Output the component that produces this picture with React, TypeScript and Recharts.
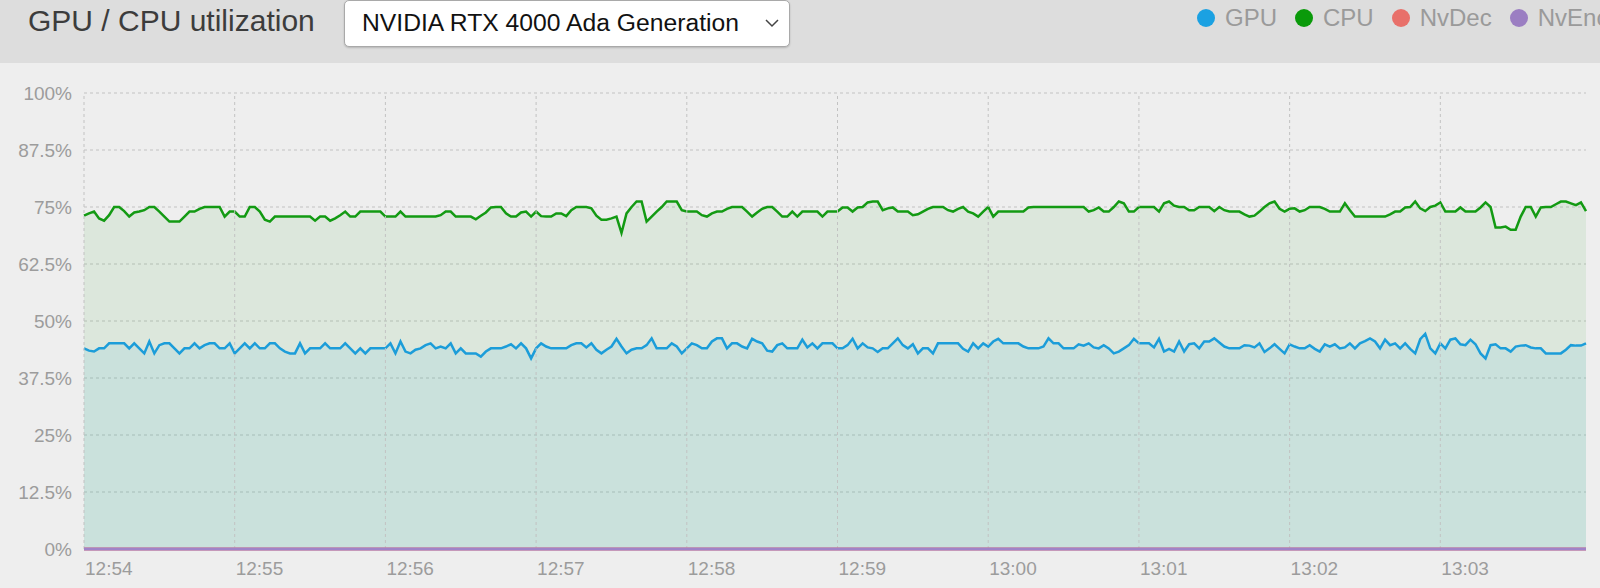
import React from "react";
import { ComposedChart, Area, Line, XAxis, YAxis, CartesianGrid, ReferenceLine } from "recharts";

// one sample every 2 seconds, starting at 12:54:00
const sampleSeconds = 2;

const cpuValues = [
  73.1, 73.6, 74.0, 72.5, 72.0, 73.2, 75.0, 75.0, 74.1, 72.9, 73.8, 74.0, 74.3, 75.0, 75.0, 74.0, 72.9, 71.8, 71.8, 71.8, 72.9, 74.0, 74.0, 74.6, 75.0,
  75.0, 75.0, 75.0, 72.9, 74.0, 74.0, 72.9, 72.9, 75.0, 75.0, 74.0, 72.2, 71.8, 72.9, 72.9, 72.9, 72.9, 72.9, 72.9, 72.9, 72.9, 72.0, 72.9, 72.9, 72.0,
  72.5, 73.2, 74.0, 72.9, 72.9, 74.0, 74.0, 74.0, 74.0, 74.0, 72.9, 72.9, 72.9, 74.0, 72.9, 72.9, 72.9, 72.9, 72.9, 72.9, 72.9, 73.2, 74.0, 74.0, 72.9,
  72.9, 72.9, 72.9, 72.3, 73.1, 73.8, 74.9, 75.0, 75.0, 73.6, 72.9, 72.9, 73.8, 74.0, 72.9, 74.0, 73.0, 72.9, 72.9, 73.6, 73.6, 73.0, 74.3, 75.0, 75.0,
  75.0, 74.7, 73.1, 72.2, 72.2, 72.5, 72.9, 69.3, 73.6, 75.0, 76.2, 76.2, 71.8, 72.9, 74.0, 75.0, 76.2, 76.2, 76.2, 74.3, 74.0, 74.0, 74.0, 73.2, 72.9,
  73.6, 74.0, 74.0, 74.6, 75.0, 75.0, 75.0, 74.0, 72.9, 73.8, 74.6, 75.0, 75.0, 74.0, 72.9, 72.9, 74.0, 72.9, 74.0, 74.0, 74.0, 74.0, 72.9, 74.0, 74.0,
  74.0, 74.9, 74.9, 74.0, 74.9, 75.0, 76.0, 76.2, 76.2, 74.3, 74.7, 74.9, 74.0, 74.0, 74.0, 73.2, 73.4, 74.0, 74.6, 75.0, 75.0, 75.0, 74.3, 74.0, 74.6,
  75.0, 74.0, 73.6, 72.9, 74.0, 75.0, 72.9, 74.0, 74.0, 74.0, 74.0, 74.0, 74.0, 74.9, 75.0, 75.0, 75.0, 75.0, 75.0, 75.0, 75.0, 75.0, 75.0, 75.0, 75.0,
  74.0, 74.3, 74.9, 74.0, 74.0, 75.0, 76.2, 75.8, 74.0, 74.0, 75.0, 75.0, 75.0, 75.0, 74.0, 75.8, 76.2, 75.3, 75.0, 75.0, 74.3, 74.3, 75.0, 75.0, 75.0,
  74.1, 75.0, 74.3, 74.0, 74.0, 74.0, 73.4, 72.9, 73.1, 74.0, 75.0, 75.8, 76.2, 74.6, 74.0, 74.6, 74.7, 74.0, 74.3, 75.0, 75.0, 75.0, 74.6, 74.0, 74.0,
  74.0, 75.8, 74.3, 72.9, 72.9, 72.9, 72.9, 72.9, 72.9, 72.9, 73.4, 74.0, 74.0, 74.9, 75.0, 76.2, 74.7, 74.1, 75.0, 75.3, 76.0, 74.0, 74.0, 74.0, 74.9,
  74.0, 74.0, 74.0, 74.9, 76.0, 75.0, 70.5, 70.5, 70.7, 70.0, 70.0, 72.9, 75.0, 75.0, 72.9, 74.9, 75.0, 75.0, 75.6, 76.2, 76.2, 75.8, 75.4, 76.0, 74.1,
];

const gpuValues = [
  44.0, 43.5, 43.3, 44.0, 44.0, 45.1, 45.1, 45.1, 45.1, 44.0, 45.1, 44.0, 42.9, 45.5, 42.9, 44.7, 45.1, 45.1, 44.0, 42.9, 44.0, 44.0, 45.1, 44.0, 44.7,
  45.1, 45.1, 44.0, 44.0, 45.1, 42.9, 44.0, 45.1, 44.0, 45.1, 44.0, 44.0, 45.1, 45.1, 44.0, 43.3, 42.9, 42.9, 45.1, 42.9, 44.0, 44.0, 44.0, 45.1, 44.0,
  44.0, 44.0, 45.1, 44.0, 42.9, 44.0, 42.9, 44.0, 44.0, 44.0, 44.0, 45.1, 42.9, 45.5, 43.3, 42.9, 43.7, 44.0, 44.7, 45.1, 44.0, 44.4, 44.0, 45.1, 42.9,
  44.0, 42.9, 42.9, 42.9, 42.2, 43.3, 44.0, 44.0, 44.0, 44.4, 44.9, 44.0, 45.1, 44.0, 41.8, 44.0, 45.1, 44.4, 44.0, 44.0, 44.0, 44.0, 44.7, 45.1, 45.1,
  44.2, 45.1, 43.7, 42.9, 43.7, 44.4, 46.1, 44.4, 42.9, 43.7, 44.0, 44.0, 44.7, 46.2, 44.0, 44.0, 44.0, 45.1, 44.4, 42.9, 44.0, 45.1, 44.7, 44.0, 44.0,
  45.5, 46.2, 46.2, 44.0, 45.1, 45.1, 44.4, 44.0, 46.1, 45.5, 45.1, 43.5, 43.3, 44.7, 45.1, 44.0, 44.0, 44.0, 45.9, 44.2, 45.1, 44.0, 45.1, 45.1, 45.1,
  44.0, 44.0, 44.7, 46.1, 44.0, 45.1, 44.2, 44.0, 43.2, 44.0, 44.0, 45.1, 46.2, 44.7, 44.0, 44.9, 42.9, 44.0, 44.0, 42.9, 45.1, 45.1, 45.1, 45.1, 45.1,
  43.9, 43.3, 45.1, 44.0, 45.1, 44.4, 45.5, 46.1, 45.1, 45.1, 45.1, 45.1, 44.4, 44.0, 44.0, 44.0, 44.4, 46.2, 45.1, 45.1, 44.0, 44.0, 44.0, 44.9, 44.6,
  45.1, 44.2, 44.0, 44.7, 44.0, 42.9, 43.3, 44.0, 44.7, 46.1, 45.1, 45.1, 45.1, 44.2, 46.1, 43.3, 43.9, 43.3, 45.5, 43.3, 44.9, 45.1, 44.0, 45.5, 45.5,
  46.2, 45.3, 44.4, 44.0, 44.0, 44.0, 44.7, 44.6, 44.2, 45.1, 43.2, 44.0, 44.9, 43.9, 42.9, 44.9, 44.4, 44.0, 44.0, 44.7, 43.9, 43.3, 44.9, 44.4, 44.9,
  44.0, 44.2, 45.1, 44.0, 45.1, 45.6, 46.2, 45.5, 44.0, 45.9, 44.7, 45.1, 44.0, 45.1, 43.9, 42.9, 46.0, 47.2, 44.0, 42.9, 45.1, 44.0, 45.9, 46.2, 44.9,
  44.7, 45.9, 44.9, 42.9, 41.8, 44.7, 44.9, 44.0, 44.0, 43.3, 44.4, 44.6, 44.7, 44.2, 44.0, 44.0, 42.9, 42.9, 42.9, 42.9, 43.7, 44.7, 44.6, 44.6, 45.1,
];

const nvDecValues = [
  0, 0, 0, 0, 0, 0, 0, 0, 0, 0, 0, 0, 0, 0, 0, 0, 0, 0, 0, 0, 0, 0, 0, 0, 0, 0, 0, 0, 0, 0, 0, 0, 0, 0, 0, 0, 0, 0, 0, 0, 0, 0, 0, 0, 0, 0, 0, 0, 0, 0,
  0, 0, 0, 0, 0, 0, 0, 0, 0, 0, 0, 0, 0, 0, 0, 0, 0, 0, 0, 0, 0, 0, 0, 0, 0, 0, 0, 0, 0, 0, 0, 0, 0, 0, 0, 0, 0, 0, 0, 0, 0, 0, 0, 0, 0, 0, 0, 0, 0, 0,
  0, 0, 0, 0, 0, 0, 0, 0, 0, 0, 0, 0, 0, 0, 0, 0, 0, 0, 0, 0, 0, 0, 0, 0, 0, 0, 0, 0, 0, 0, 0, 0, 0, 0, 0, 0, 0, 0, 0, 0, 0, 0, 0, 0, 0, 0, 0, 0, 0, 0,
  0, 0, 0, 0, 0, 0, 0, 0, 0, 0, 0, 0, 0, 0, 0, 0, 0, 0, 0, 0, 0, 0, 0, 0, 0, 0, 0, 0, 0, 0, 0, 0, 0, 0, 0, 0, 0, 0, 0, 0, 0, 0, 0, 0, 0, 0, 0, 0, 0, 0,
  0, 0, 0, 0, 0, 0, 0, 0, 0, 0, 0, 0, 0, 0, 0, 0, 0, 0, 0, 0, 0, 0, 0, 0, 0, 0, 0, 0, 0, 0, 0, 0, 0, 0, 0, 0, 0, 0, 0, 0, 0, 0, 0, 0, 0, 0, 0, 0, 0, 0,
  0, 0, 0, 0, 0, 0, 0, 0, 0, 0, 0, 0, 0, 0, 0, 0, 0, 0, 0, 0, 0, 0, 0, 0, 0, 0, 0, 0, 0, 0, 0, 0, 0, 0, 0, 0, 0, 0, 0, 0, 0, 0, 0, 0, 0, 0, 0, 0, 0, 0,
];

const nvEncValues = [
  0, 0, 0, 0, 0, 0, 0, 0, 0, 0, 0, 0, 0, 0, 0, 0, 0, 0, 0, 0, 0, 0, 0, 0, 0, 0, 0, 0, 0, 0, 0, 0, 0, 0, 0, 0, 0, 0, 0, 0, 0, 0, 0, 0, 0, 0, 0, 0, 0, 0,
  0, 0, 0, 0, 0, 0, 0, 0, 0, 0, 0, 0, 0, 0, 0, 0, 0, 0, 0, 0, 0, 0, 0, 0, 0, 0, 0, 0, 0, 0, 0, 0, 0, 0, 0, 0, 0, 0, 0, 0, 0, 0, 0, 0, 0, 0, 0, 0, 0, 0,
  0, 0, 0, 0, 0, 0, 0, 0, 0, 0, 0, 0, 0, 0, 0, 0, 0, 0, 0, 0, 0, 0, 0, 0, 0, 0, 0, 0, 0, 0, 0, 0, 0, 0, 0, 0, 0, 0, 0, 0, 0, 0, 0, 0, 0, 0, 0, 0, 0, 0,
  0, 0, 0, 0, 0, 0, 0, 0, 0, 0, 0, 0, 0, 0, 0, 0, 0, 0, 0, 0, 0, 0, 0, 0, 0, 0, 0, 0, 0, 0, 0, 0, 0, 0, 0, 0, 0, 0, 0, 0, 0, 0, 0, 0, 0, 0, 0, 0, 0, 0,
  0, 0, 0, 0, 0, 0, 0, 0, 0, 0, 0, 0, 0, 0, 0, 0, 0, 0, 0, 0, 0, 0, 0, 0, 0, 0, 0, 0, 0, 0, 0, 0, 0, 0, 0, 0, 0, 0, 0, 0, 0, 0, 0, 0, 0, 0, 0, 0, 0, 0,
  0, 0, 0, 0, 0, 0, 0, 0, 0, 0, 0, 0, 0, 0, 0, 0, 0, 0, 0, 0, 0, 0, 0, 0, 0, 0, 0, 0, 0, 0, 0, 0, 0, 0, 0, 0, 0, 0, 0, 0, 0, 0, 0, 0, 0, 0, 0, 0, 0, 0,
];

const minuteTicks = [0, 60, 120, 180, 240, 300, 360, 420, 480, 540];
const minuteLabels = ["12:54", "12:55", "12:56", "12:57", "12:58", "12:59", "13:00", "13:01", "13:02", "13:03"];
const percentTicks = [0, 12.5, 25, 37.5, 50, 62.5, 75, 87.5, 100];
const percentLabels = ["0%", "12.5%", "25%", "37.5%", "50%", "62.5%", "75%", "87.5%", "100%"];

const legendNames = ["GPU", "CPU", "NvDec", "NvEnc"];
const legendColors = ["#1ba1e2", "#0a9a0a", "#e8706a", "#9b7ec2"];

const FONT = '"Liberation Sans", Arial, Helvetica, sans-serif';
const GRID = "#c2c2c2";

const chartData = cpuValues.map((cpu, i) => ({
  t: i * sampleSeconds,
  cpu,
  gpu: gpuValues[i],
  nvDec: nvDecValues[i],
  nvEnc: nvEncValues[i],
}));

const TimeTick = ({ x, y, payload }: any) => {
  const idx = minuteTicks.indexOf(payload.value);
  return (
    <text x={x + 1} y={y + 13} dy="0.71em" textAnchor="start" fill="#9c9c9c" fontSize={19} fontFamily={FONT}>
      {minuteLabels[idx]}
    </text>
  );
};

const PercentTick = ({ x, y, payload }: any) => {
  const idx = percentTicks.indexOf(payload.value);
  return (
    <text x={x - 12} y={y} dy="0.355em" textAnchor="end" fill="#9c9c9c" fontSize={19} fontFamily={FONT}>
      {percentLabels[idx]}
    </text>
  );
};

export default function App() {
  return (
    <div
      style={{
        position: "relative",
        width: 1600,
        height: 588,
        overflow: "hidden",
        background: "#eeeeee",
        fontFamily: FONT,
      }}
    >
      <style>{"body{margin:0}"}</style>
      {/* header */}
      <div style={{ position: "absolute", left: 0, top: 0, width: 1600, height: 63, background: "#dddddd", overflow: "hidden" }}>
        <div style={{ position: "absolute", left: 28, top: 6, fontSize: 30, lineHeight: "30px", color: "#3c3c3c", whiteSpace: "nowrap" }}>
          GPU / CPU utilization
        </div>
        <div
          style={{
            position: "absolute",
            left: 344,
            top: 0,
            width: 444,
            height: 45,
            background: "#ffffff",
            border: "1px solid #a9a9a9",
            borderRadius: 5,
            boxShadow: "0 1px 2px rgba(0,0,0,0.18)",
          }}
        >
          <div style={{ position: "absolute", left: 17, top: 10, fontSize: 24.7, lineHeight: "24px", color: "#111", whiteSpace: "nowrap" }}>
            NVIDIA RTX 4000 Ada Generation
          </div>
          <svg style={{ position: "absolute", left: 420, top: 18 }} width={14} height={9}>
            <path d="M1 1 L7 7 L13 1" fill="none" stroke="#444" strokeWidth={1.5} />
          </svg>
        </div>
        <div style={{ position: "absolute", left: 1197, top: 6, display: "flex", alignItems: "center", whiteSpace: "nowrap" }}>
          {legendNames.map((name, i) => (
            <div key={name} style={{ display: "flex", alignItems: "center", marginRight: 18, flexShrink: 0 }}>
              <div style={{ width: 18, height: 18, borderRadius: 9, background: legendColors[i], marginRight: 10 }} />
              <span style={{ fontSize: 24, lineHeight: "24px", color: "#9a9a9a" }}>{name}</span>
            </div>
          ))}
        </div>
      </div>

      {/* chart */}
      <div style={{ position: "absolute", left: 0, top: 63 }}>
        <ComposedChart width={1600} height={525} data={chartData} margin={{ top: 30, right: 14, bottom: 0, left: 0 }}>
          <CartesianGrid strokeDasharray="3 3" stroke={GRID} vertical={false} />
          <XAxis
            dataKey="t"
            type="number"
            domain={[0, 598]}
            ticks={minuteTicks}
            axisLine={false}
            tickLine={false}
            tickSize={0}
            tickMargin={0}
            height={39}
            tick={<TimeTick />}
            interval={0}
          />
          <YAxis
            type="number"
            domain={[0, 100]}
            ticks={percentTicks}
            axisLine={false}
            tickLine={false}
            tickSize={0}
            tickMargin={0}
            width={84}
            tick={<PercentTick />}
            interval={0}
          />
          {minuteTicks.map((t) => (
            <ReferenceLine key={t} x={t} stroke={GRID} strokeDasharray="3 3" />
          ))}
          <Area
            type="linear"
            dataKey="cpu"
            stroke="#139a13"
            strokeWidth={2.5}
            fill="#0a9a0a"
            fillOpacity={0.08}
            dot={false}
            activeDot={false}
            isAnimationActive={false}
          />
          <Area
            type="linear"
            dataKey="gpu"
            stroke="#1c9dd9"
            strokeWidth={2.5}
            fill="#1ba1e2"
            fillOpacity={0.09}
            dot={false}
            activeDot={false}
            isAnimationActive={false}
          />
          <Line type="linear" dataKey="nvDec" stroke="#e8706a" strokeWidth={3} dot={false} activeDot={false} isAnimationActive={false} />
          <Line type="linear" dataKey="nvEnc" stroke="#a083c8" strokeWidth={3} dot={false} activeDot={false} isAnimationActive={false} />
        </ComposedChart>
      </div>
    </div>
  );
}
